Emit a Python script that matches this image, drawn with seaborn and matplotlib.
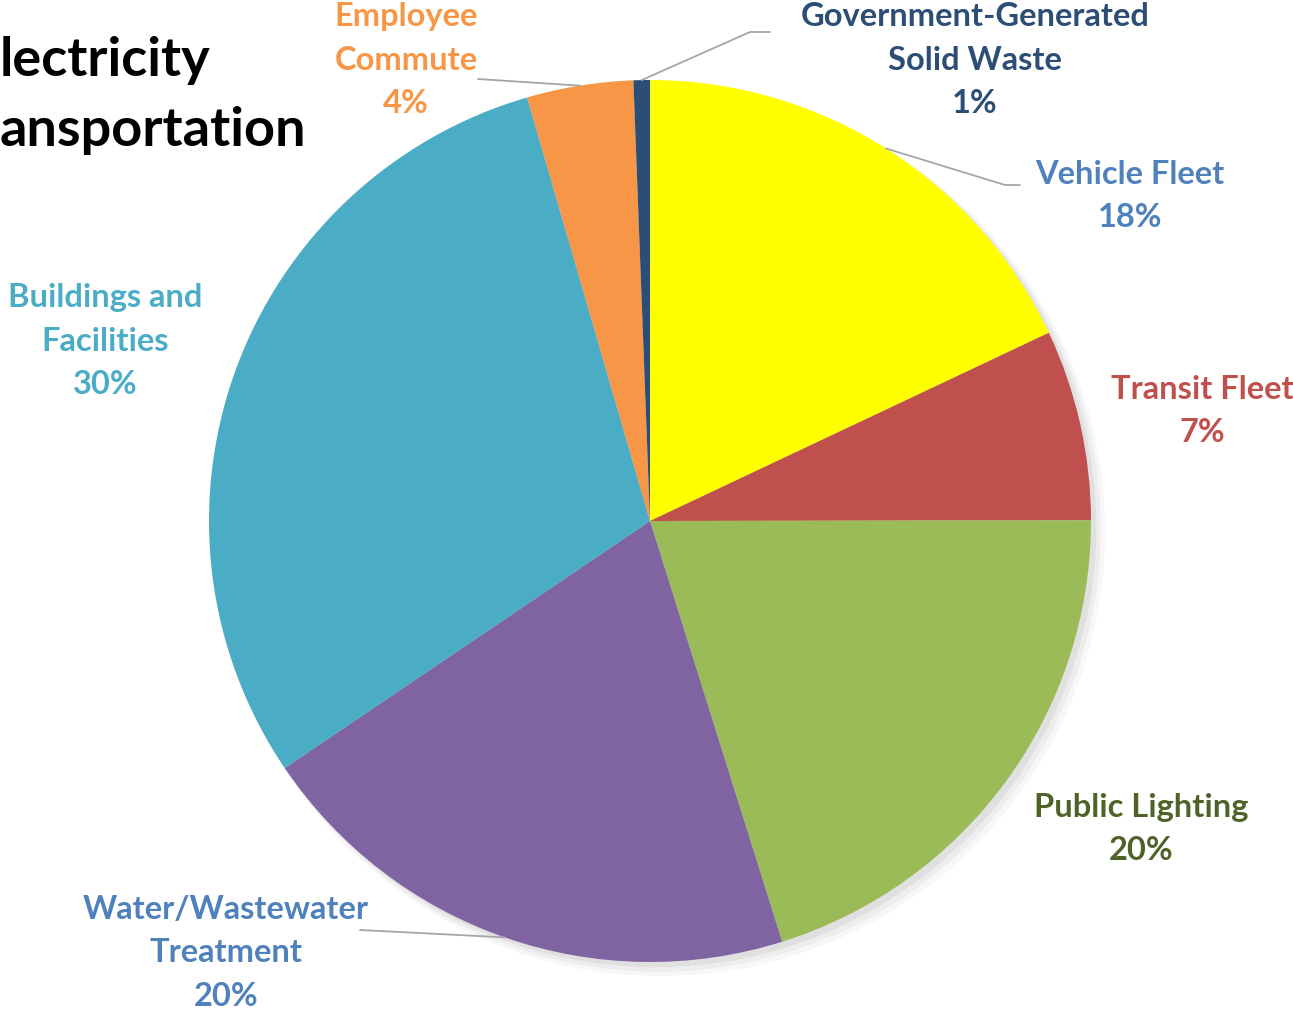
import matplotlib.pyplot as plt
import seaborn as sns
import numpy as np

sns.set_theme(style="white")
plt.rcParams['font.family'] = ['Lato', 'DejaVu Sans']

# data
categories = ['Vehicle Fleet', 'Transit Fleet', 'Public Lighting', 'Water/Wastewater\nTreatment',
              'Buildings and\nFacilities', 'Employee\nCommute', 'Government-Generated\nSolid Waste']
shares = [18.0, 7.0, 20.2, 20.4, 30.0, 3.9, 0.6]
title_lines = ['lectricity', 'ansportation']  # only the visible part of the title
slice_colors = ['#FFFF00', '#C0504D', '#9BBB59', '#8064A2', '#4BACC6', '#F79646', '#2C4D75']
label_colors = ['#4F81BD', '#C0504D', '#4F6228', '#4F81BD', '#4BACC6', '#F79646', '#2C4D75']

# layout in pixels
W, H = 1293, 1009
cx, cy, R = 650, 521, 441
label_pos = [(1130, 196), (1202, 411), (1141, 829), (226, 953), (105, 341), (406, 60), (975, 60)]
leaders = {0: [(1005, 185), (1020, 185)], 3: [(360, 930)],
           5: [(478, 79)], 6: [(750, 32), (770, 32)]}


def px(x, y):
    return (x - cx) / R, (cy - y) / R


fig = plt.figure(figsize=(W / 100, H / 100), dpi=100)
ax = fig.add_axes([0, 0, 1, 1])

# soft shadow
for k, a in enumerate([0.05, 0.04, 0.03]):
    ax.add_patch(plt.Circle((0.012 + k * 0.006, -0.012 - k * 0.006), 1.0 + k * 0.004,
                            color='black', alpha=a, lw=0, zorder=0))

wedges, _ = ax.pie(shares, colors=slice_colors, startangle=90, counterclock=False,
                   radius=1.0, center=(0, 0), wedgeprops=dict(linewidth=0))
for w in wedges:
    w.set_zorder(1)

total = sum(shares)
for i, (cat, v) in enumerate(zip(categories, shares)):
    x, y = px(*label_pos[i])
    ax.text(x, y, f'{cat}\n{round(v / total * 100)}%', ha='center', va='center',
            fontsize=23.5, fontweight='bold', color=label_colors[i], linespacing=1.6, zorder=3)

# leader lines from wedge edge
for i, pts in leaders.items():
    w = wedges[i]
    mid = np.deg2rad((w.theta1 + w.theta2) / 2)
    xs = [np.cos(mid)] + [px(*p)[0] for p in pts]
    ys = [np.sin(mid)] + [px(*p)[1] for p in pts]
    ax.plot(xs, ys, color='#A6A6A6', lw=1.3, zorder=2)

# title (only its visible part)
for (tx, ty), line in zip([(0, 60), (0, 130)], title_lines):
    x, y = px(tx, ty)
    ax.text(x, y, line, ha='left', va='center', fontsize=39, fontweight='bold', color='black')

ax.set_xlim(-cx / R, (W - cx) / R)
ax.set_ylim(-(H - cy) / R, cy / R)
ax.set_aspect('equal')
ax.axis('off')

plt.savefig('out.png', dpi=100)
plt.close()
